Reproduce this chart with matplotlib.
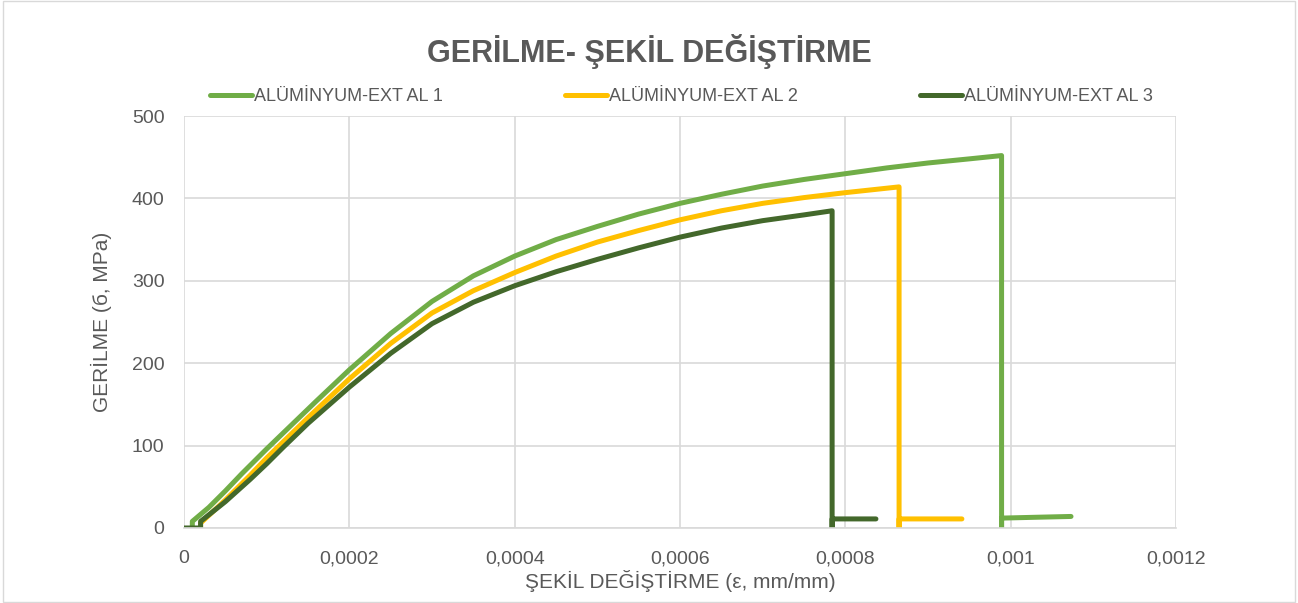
import matplotlib
matplotlib.use("Agg")
import matplotlib.pyplot as plt
from matplotlib.patches import Rectangle

plt.rcParams['font.family'] = ['Liberation Sans', 'DejaVu Sans']

# veri
strain_1 = [0.00001, 0.00001, 0.00003, 0.00005, 0.00007, 0.0001, 0.00013, 0.00016, 0.0002, 0.00025,
            0.0003, 0.00035, 0.0004, 0.00045, 0.0005, 0.00055, 0.0006, 0.00065, 0.0007,
            0.00075, 0.0008, 0.00085, 0.0009, 0.00095, 0.000989, 0.000989, 0.000989, 0.00103, 0.001073]
stress_1 = [0, 8, 25, 45, 66, 96, 125, 154, 192, 236,
            275, 306, 330, 350, 366, 381, 394, 405, 415,
            423, 430, 437, 443, 448, 452, 0, 12, 13, 14]

strain_2 = [0.00002, 0.00002, 0.00005, 0.00008, 0.0001, 0.00015, 0.0002, 0.00025, 0.0003, 0.00035,
            0.0004, 0.00045, 0.0005, 0.00055, 0.0006, 0.00065, 0.0007, 0.00075, 0.0008, 0.000865,
            0.000865, 0.000865, 0.000941]
stress_2 = [0, 6, 34, 64, 85, 134, 181, 224, 261, 288,
            310, 330, 347, 361, 374, 385, 394, 401, 407, 414,
            0, 11, 11]

strain_3 = [0, 0.00002, 0.00002, 0.00005, 0.00008, 0.0001, 0.00012, 0.00015, 0.0002, 0.00025,
            0.0003, 0.00035, 0.0004, 0.00045, 0.0005, 0.00055, 0.0006, 0.00065, 0.0007, 0.00075,
            0.000784, 0.000784, 0.000784, 0.000837]
stress_3 = [0, 0, 8, 32, 59, 78, 98, 127, 171, 212,
            248, 274, 294, 311, 326, 340, 353, 364, 373, 380,
            385, 0, 11, 11]

labels = ['ALÜMİNYUM-EXT AL 1', 'ALÜMİNYUM-EXT AL 2', 'ALÜMİNYUM-EXT AL 3']
colors = ['#70AD47', '#FFC000', '#43682B']
x_ticks = [0, 0.0002, 0.0004, 0.0006, 0.0008, 0.001, 0.0012]
x_tick_labels = ['0', '0,0002', '0,0004', '0,0006', '0,0008', '0,001', '0,0012']
y_ticks = [0, 100, 200, 300, 400, 500]

fig = plt.figure(figsize=(12.98, 6.03), dpi=100)
ax = fig.add_axes([0.1418, 0.1244, 0.7642, 0.6832])

for xs, ys, lab, c in zip([strain_1, strain_2, strain_3], [stress_1, stress_2, stress_3], labels, colors):
    ax.plot(xs, ys, color=c, lw=3.6, label=lab, solid_joinstyle='round', solid_capstyle='round')

ax.set_xlim(0, 0.0012)
ax.set_ylim(0, 500)
ax.set_xticks(x_ticks)
ax.set_xticklabels(x_tick_labels)
ax.set_yticks(y_ticks)
ax.grid(True, color='#D9D9D9', lw=1.2)
ax.set_axisbelow(True)
for s in ['top', 'right', 'left']:
    ax.spines[s].set_visible(False)
ax.spines['bottom'].set_color('#D9D9D9')
ax.spines['bottom'].set_linewidth(1.2)
ax.tick_params(length=0, labelsize=14, colors='#595959')
ax.tick_params(axis='x', pad=16)
ax.tick_params(axis='y', pad=14)

ax.set_xlabel('ŞEKİL DEĞİŞTİRME (ε, mm/mm)', fontsize=15, color='#595959', labelpad=2)
ax.set_ylabel('GERİLME (б, MPa)', fontsize=15, color='#595959', labelpad=14)

fig.text(0.5, 0.915, 'GERİLME- ŞEKİL DEĞİŞTİRME', ha='center', va='center',
         fontsize=22, fontweight='bold', color='#595959')

fig.legend(loc='center', bbox_to_anchor=(0.525, 0.84), ncol=3, frameon=False,
           fontsize=13, handlelength=2.3, columnspacing=6.8, handletextpad=0.1,
           labelcolor='#595959')

fig.patches.append(Rectangle((0.002, 0.002), 0.996, 0.996, transform=fig.transFigure,
                             fill=False, edgecolor='#D9D9D9', lw=1))

fig.savefig('out.png', dpi=100)
